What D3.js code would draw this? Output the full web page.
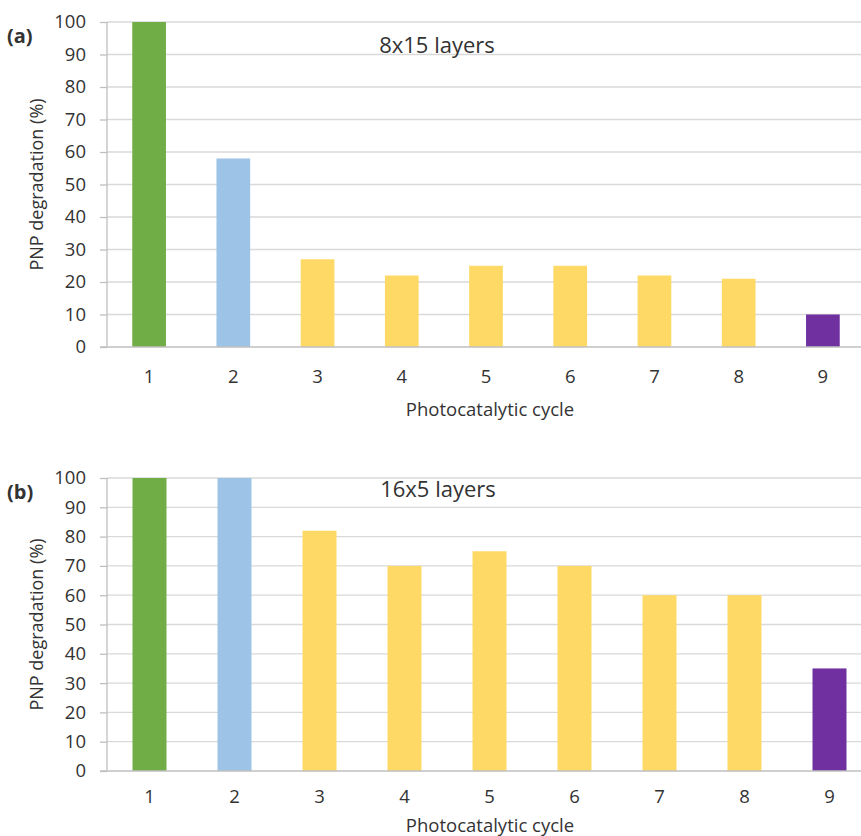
<!DOCTYPE html>
<html>
<head>
<meta charset="utf-8">
<script src="https://cdn.jsdelivr.net/npm/d3@7"></script>
<style>
  body { margin: 0; background: #fff; }
  svg text { font-family: "Open Sans", sans-serif; fill: #333; }
</style>
</head>
<body>
<div id="chart"></div>
<script>
// photocatalytic cycles
const cycles = ['1', '2', '3', '4', '5', '6', '7', '8', '9'];
// PNP degradation (%) per cycle
const degradationA = [100, 58, 27, 22, 25, 25, 22, 21, 10];
const degradationB = [100, 100, 82, 70, 75, 70, 60, 60, 35];
const yTicks = [0, 10, 20, 30, 40, 50, 60, 70, 80, 90, 100];
const barColors = ['#70ad47', '#9dc3e6', '#ffd966', '#ffd966', '#ffd966', '#ffd966', '#ffd966', '#ffd966', '#7030a0'];

const width = 861, height = 836;
const svg = d3.select('#chart').append('svg')
	.attr('width', width)
	.attr('height', height);

const panels = [
	{ label: '(a)', title: '8x15 layers', values: degradationA, top: 22, bottom: 347, left: 107, right: 865, titleX: 437, titleY: 53, xLabelY: 383, xTitleY: 416 },
	{ label: '(b)', title: '16x5 layers', values: degradationB, top: 478, bottom: 771, left: 107, right: 872, titleX: 438, titleY: 497, xLabelY: 803, xTitleY: 832 }
];

panels.forEach(p => {
	const g = svg.append('g');
	const x = d3.scaleBand().domain(cycles).range([p.left, p.right]).padding(0.6).paddingOuter(0.3);
	const y = d3.scaleLinear().domain([0, 100]).range([p.bottom, p.top]);

	// gridlines
	g.append('g')
		.selectAll('line')
		.data(yTicks.filter(t => t > 0))
		.join('line')
		.attr('x1', p.left).attr('x2', width)
		.attr('y1', d => y(d)).attr('y2', d => y(d))
		.attr('stroke', '#d9d9d9')
		.attr('stroke-width', 1.3);

	// bars
	g.append('g')
		.selectAll('rect')
		.data(p.values)
		.join('rect')
		.attr('x', (d, i) => x(cycles[i]))
		.attr('y', d => y(d))
		.attr('width', x.bandwidth())
		.attr('height', d => y(0) - y(d))
		.attr('fill', (d, i) => barColors[i]);

	// y axis
	const yAxis = d3.axisLeft(y).tickValues(yTicks).tickSize(7).tickPadding(14);
	const ya = g.append('g')
		.attr('transform', 'translate(' + p.left + ',0)')
		.call(yAxis);
	ya.select('.domain').attr('stroke', '#bfbfbf').attr('stroke-width', 1.3).attr('d', 'M0,' + p.top + 'V' + p.bottom);
	ya.selectAll('.tick line').attr('stroke', '#bfbfbf').attr('stroke-width', 1.3);
	ya.selectAll('.tick text').attr('font-size', 18.5).attr('fill', '#333');

	// x axis baseline
	g.append('line')
		.attr('x1', p.left - 7).attr('x2', width)
		.attr('y1', y(0)).attr('y2', y(0))
		.attr('stroke', '#bfbfbf')
		.attr('stroke-width', 1.5);

	// x tick labels
	g.append('g')
		.selectAll('text')
		.data(cycles)
		.join('text')
		.attr('x', d => x(d) + x.bandwidth() / 2)
		.attr('y', p.xLabelY)
		.attr('text-anchor', 'middle')
		.attr('font-size', 18.5)
		.text(d => d);

	g.append('text')
		.attr('x', 490)
		.attr('y', p.xTitleY)
		.attr('text-anchor', 'middle')
		.attr('font-size', 18.5)
		.text('Photocatalytic cycle');

	g.append('text')
		.attr('transform', 'translate(43,' + ((p.top + p.bottom) / 2) + ') rotate(-90)')
		.attr('text-anchor', 'middle')
		.attr('font-size', 18)
		.text('PNP degradation (%)');

	g.append('text')
		.attr('x', 7)
		.attr('y', p.top + 21)
		.attr('font-size', 20)
		.attr('font-weight', 'bold')
		.attr('fill', '#111')
		.text(p.label);

	g.append('text')
		.attr('x', p.titleX)
		.attr('y', p.titleY)
		.attr('text-anchor', 'middle')
		.attr('font-size', 22)
		.text(p.title);
});
</script>
</body>
</html>
